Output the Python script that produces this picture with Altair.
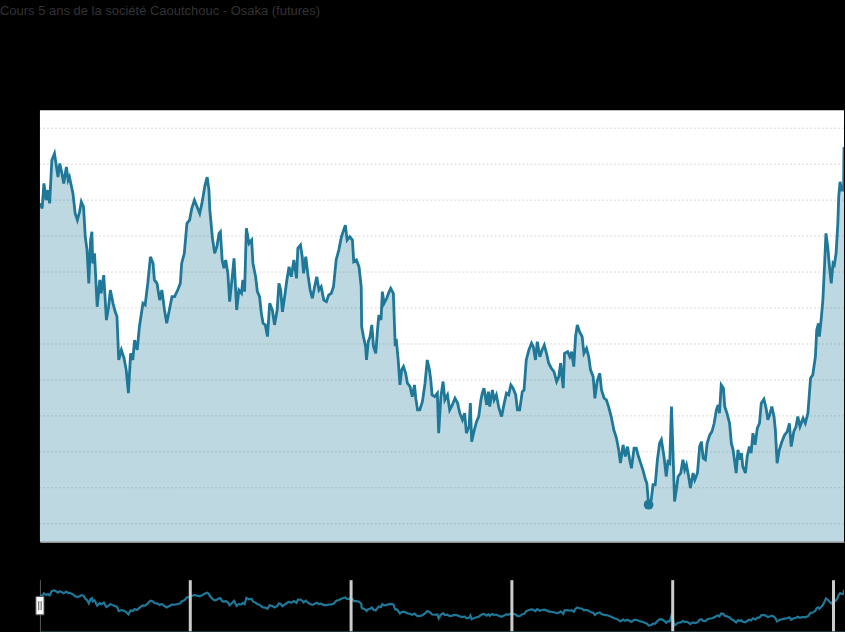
import altair as alt
import pandas as pd

TITLE = "Cours 5 ans de la société Caoutchouc - Osaka (futures)"
START = "2012-01-26"
SPAN_DAYS = 1827
GRID_VALUES = [160, 180, 200, 220, 240, 260, 280, 300, 320, 340, 360, 380]

days = [
    0, 5, 9, 14, 18, 22, 27, 33, 37, 41,
    45, 50, 54, 60, 64, 67, 75, 80, 85, 90,
    94, 99, 103, 107, 111, 115, 118, 120, 124, 130,
    136, 139, 145, 151, 156, 160, 166, 171, 175, 179,
    185, 191, 196, 201, 206, 211, 215, 221, 226, 234,
    239, 245, 251, 257, 260, 266, 272, 277, 283, 288,
    294, 300, 306, 313, 319, 322, 328, 334, 340, 345,
    351, 357, 363, 368, 375, 380, 384, 386, 392, 397,
    402, 407, 410, 414, 418, 422, 427, 431, 437, 441,
    447, 452, 458, 461, 465, 469, 475, 481, 484, 490,
    494, 499, 503, 507, 512, 517, 522, 528, 533, 539,
    543, 547, 551, 556, 561, 566, 571, 577, 583, 586,
    592, 596, 599, 604, 609, 614, 619, 624, 629, 634,
    639, 645, 651, 656, 662, 667, 673, 679, 685, 690,
    694, 698, 704, 710, 713, 719, 725, 730, 731, 735,
    740, 742, 746, 750, 754, 758, 763, 767, 770, 775,
    778, 782, 788, 792, 797, 803, 807, 810, 814, 818,
    822, 826, 831, 835, 841, 846, 851, 854, 858, 863,
    869, 875, 880, 885, 888, 891, 897, 903, 906, 911,
    916, 920, 926, 931, 937, 943, 949, 954, 960, 965,
    969, 975, 978, 981, 987, 992, 997, 1002, 1005, 1009,
    1015, 1019, 1022, 1028, 1032, 1037, 1043, 1049, 1055, 1060,
    1065, 1070, 1075, 1081, 1085, 1090, 1096, 1100, 1105, 1111,
    1117, 1121, 1126, 1130, 1136, 1141, 1146, 1151, 1156, 1162,
    1168, 1174, 1179, 1183, 1189, 1192, 1199, 1204, 1208, 1213,
    1217, 1221, 1226, 1232, 1236, 1242, 1247, 1251, 1257, 1261,
    1266, 1272, 1276, 1282, 1287, 1292, 1298, 1304, 1310, 1315,
    1319, 1325, 1330, 1335, 1340, 1344, 1350, 1355, 1360, 1365,
    1370, 1376, 1379, 1383, 1389, 1393, 1398, 1403, 1408, 1412,
    1418, 1423, 1427, 1431, 1435, 1438, 1442, 1446, 1450, 1456,
    1461, 1465, 1469, 1474, 1478, 1484, 1488, 1494, 1499, 1503,
    1507, 1512, 1516, 1522, 1527, 1532, 1537, 1541, 1544, 1548,
    1553, 1556, 1561, 1567, 1571, 1575, 1578, 1582, 1586, 1590,
    1594, 1597, 1603, 1607, 1612, 1616, 1620, 1625, 1630, 1635,
    1639, 1645, 1650, 1654, 1658, 1663, 1668, 1671, 1675, 1680,
    1686, 1692, 1698, 1703, 1707, 1713, 1718, 1722, 1727, 1734,
    1739, 1745, 1751, 1756, 1762, 1765, 1769, 1771, 1775, 1779,
    1783, 1786, 1790, 1794, 1798, 1802, 1805, 1809, 1813, 1815,
    1818, 1822, 1826, 1827,
]

prices = [
    338.2, 335.4, 349.3, 340.0, 345.6, 338.2, 362.2, 365.9, 359.4, 352.9,
    360.4, 354.8, 349.3, 358.5, 351.1, 352.9, 343.7, 332.6, 328.9, 333.5,
    339.1, 336.3, 319.6, 312.2, 293.7, 317.8, 322.4, 304.8, 310.4, 280.7,
    295.6, 288.2, 298.3, 273.3, 280.7, 290.0, 282.6, 277.9, 275.2, 251.1,
    256.7, 252.1, 245.6, 232.6, 254.8, 251.1, 262.2, 256.7, 269.6, 282.6,
    281.7, 293.7, 308.5, 304.8, 295.6, 293.7, 284.4, 290.0, 278.9, 271.5,
    278.9, 286.3, 286.3, 290.0, 293.7, 304.8, 310.4, 327.1, 328.9, 335.4,
    340.0, 336.3, 332.6, 338.2, 348.3, 352.8, 345.6, 334.4, 318.7, 310.4,
    314.1, 321.5, 322.4, 306.7, 302.1, 306.7, 299.3, 283.5, 297.4, 307.6,
    278.9, 290.0, 288.2, 295.6, 289.1, 324.3, 315.9, 317.8, 304.8, 297.4,
    289.1, 286.3, 277.1, 271.5, 270.6, 264.1, 282.6, 278.9, 270.6, 278.9,
    293.7, 290.0, 277.9, 286.3, 295.6, 302.9, 297.4, 306.7, 296.5, 313.2,
    315.0, 308.5, 299.3, 308.5, 298.3, 290.0, 285.4, 291.8, 297.4, 290.0,
    291.8, 284.4, 283.5, 287.2, 288.2, 291.8, 306.7, 312.2, 319.6, 323.3,
    326.1, 317.8, 319.6, 317.8, 305.7, 306.7, 302.9, 291.8, 269.6, 264.1,
    258.5, 251.1, 261.3, 264.1, 270.6, 258.5, 254.8, 267.8, 276.1, 273.3,
    289.1, 282.6, 285.4, 288.2, 290.9, 288.2, 260.4, 261.3, 251.1, 237.2,
    245.6, 247.4, 243.7, 238.2, 236.3, 230.7, 237.2, 229.8, 223.3, 223.3,
    227.9, 238.2, 251.1, 245.6, 240.0, 231.7, 230.7, 232.6, 210.4, 230.7,
    239.1, 228.9, 231.7, 223.3, 226.1, 229.8, 227.1, 221.5, 217.8, 221.5,
    210.4, 214.1, 227.1, 205.7, 212.2, 216.8, 219.6, 228.9, 232.6, 235.4,
    226.1, 233.5, 225.2, 234.4, 228.9, 231.7, 224.3, 219.6, 227.1, 232.6,
    231.7, 237.2, 235.4, 231.7, 223.3, 223.3, 233.5, 234.4, 251.1, 256.7,
    260.4, 258.5, 251.1, 261.3, 252.9, 256.7, 259.4, 254.8, 249.3, 246.5,
    244.6, 239.1, 241.8, 249.3, 235.4, 254.8, 255.7, 252.9, 255.7, 247.4,
    264.1, 270.6, 266.8, 264.1, 254.8, 257.6, 252.9, 245.6, 241.8, 229.8,
    239.1, 243.7, 234.4, 229.8, 228.9, 225.2, 219.6, 212.2, 207.6, 201.1,
    193.7, 203.9, 197.4, 202.9, 195.6, 190.9, 202.1, 202.1, 197.4, 193.7,
    190.0, 184.4, 182.6, 170.6, 173.3, 181.7, 181.7, 195.6, 204.8, 206.7,
    197.4, 186.3, 194.6, 193.7, 225.2, 202.9, 172.4, 178.9, 186.3, 188.2,
    195.6, 190.0, 192.8, 186.3, 179.8, 188.2, 184.4, 188.2, 202.9, 205.7,
    196.5, 195.6, 204.8, 209.4, 211.3, 215.9, 223.3, 226.1, 221.5, 237.2,
    235.4, 225.2, 221.5, 215.9, 204.8, 201.1, 195.6, 188.2, 201.1, 195.6,
    199.3, 191.8, 188.2, 197.4, 202.9, 199.3, 210.4, 203.9, 213.2, 215.9,
    227.1, 229.3, 224.3, 217.8, 220.6, 225.2, 219.6, 212.2, 193.7, 201.1,
    205.7, 209.4, 211.3, 215.9, 202.9, 211.3, 214.1, 219.6, 214.1, 218.7,
    215.9, 221.5, 240.9, 242.8, 252.9, 267.8, 271.5, 264.1, 273.3, 284.4,
    304.8, 321.5, 314.1, 302.9, 293.7, 304.8, 303.9, 310.4, 327.1, 341.8,
    350.2, 345.6, 345.6, 369.6,
]

n = min(len(days), len(prices))
start = pd.Timestamp(START)
end = start + pd.Timedelta(days=SPAN_DAYS)
df = pd.DataFrame({
    "date": [start + pd.Timedelta(days=d) for d in days[:n]],
    "price": prices[:n],
})
df_min = df.loc[[df["price"].idxmin()]]
df_handles = pd.DataFrame({"date": [start]})
df_grid = pd.DataFrame({"price": GRID_VALUES})

TEAL = "#1f7898"
dom = [start.isoformat(), end.isoformat()]
Y_DOM = [150, 390]
yscale = alt.Scale(domain=Y_DOM, nice=False, zero=False)
xscale = alt.Scale(domain=dom)

x_main = alt.X(
    "date:T",
    scale=xscale,
    axis=alt.Axis(labels=False, ticks=False, grid=False, title=None,
                  domainColor="#cccccc", domainWidth=1),
)
y_main = alt.Y(
    "price:Q",
    scale=yscale,
    axis=alt.Axis(labels=False, ticks=False, grid=False, title=None,
                  domainColor="#cccccc", domainWidth=2),
)

grid = alt.Chart(df_grid).mark_rule(
    color="#d9d9d9", strokeWidth=1, strokeDash=[2, 2]
).encode(y=alt.Y("price:Q", scale=yscale, axis=None))
base = alt.Chart(df).encode(x=x_main, y=y_main)
area = base.mark_area(color=TEAL, fillOpacity=0.29, clip=True).encode(y2=alt.datum(Y_DOM[0]))
line = base.mark_line(color=TEAL, strokeWidth=2.8, clip=True)
low = alt.Chart(df_min).mark_point(filled=True, size=95, color=TEAL, opacity=1, clip=True).encode(
    x=alt.X("date:T", scale=xscale),
    y=alt.Y("price:Q", scale=yscale),
)
main = alt.layer(grid, area, line, low).properties(
    width=805, height=432,
    view=alt.ViewBackground(fill="white", stroke=None),
)

x_nav = alt.X(
    "date:T",
    scale=xscale,
    axis=alt.Axis(labels=False, ticks=False, title=None, grid=True,
                  gridColor="#cccccc", gridWidth=3,
                  tickCount=alt.TimeIntervalStep(interval="year", step=1),
                  domainColor="#24434d", domainWidth=2, zindex=1),
)
y_nav = alt.Y(
    "price:Q",
    scale=alt.Scale(domain=[137, 425], nice=False, zero=False),
    axis=alt.Axis(labels=False, ticks=False, grid=False, title=None,
                  domainColor="#555555", domainWidth=1),
)
nav_line = alt.Chart(df).mark_line(color=TEAL, strokeWidth=2.2, clip=True).encode(x=x_nav, y=y_nav)
HANDLE = "M-0.44,-1H0.44V1H-0.44Z M-0.13,-0.5V0.5 M0.13,-0.5V0.5"
handles = alt.Chart(df_handles).mark_point(
    shape=HANDLE, size=340, filled=False, fill="white", stroke="#555555",
    strokeWidth=1, opacity=1, fillOpacity=1,
).encode(
    x=alt.X("date:T", scale=xscale),
    y=alt.value(26),
)
nav = alt.layer(nav_line, handles).properties(
    width=805, height=52,
    view=alt.ViewBackground(fill="black", stroke=None),
)

chart = alt.vconcat(main, nav, spacing=38).properties(
    title=alt.TitleParams(
        TITLE, anchor="start", frame="group", dx=-40, fontSize=13,
        font="Liberation Sans", color="#333333", fontWeight="normal", offset=92,
    ),
    padding={"left": 0, "top": 5, "right": 0, "bottom": 0},
).configure(background="black").configure_view(stroke=None)

chart.save("out.html", embed_options={"renderer": "svg", "actions": False})
